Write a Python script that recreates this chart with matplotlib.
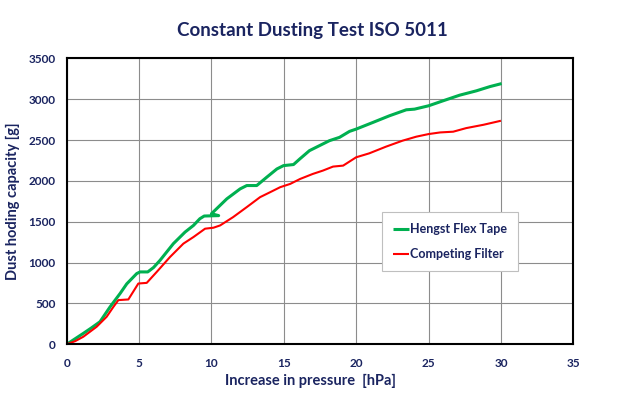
import matplotlib
matplotlib.use("Agg")
import matplotlib.pyplot as plt

plt.rcParams['font.family'] = ['Lato', 'DejaVu Sans']

title = "Constant Dusting Test ISO 5011"
xlabel = "Increase in pressure  [hPa]"
ylabel = "Dust hoding capacity [g]"
series_names = ["Hengst Flex Tape", "Competing Filter"]

green_x = [0, 0.6, 1.15, 1.7, 2.3, 3.0, 3.69, 4.15, 4.84, 5.07, 5.6, 6.0, 6.45, 7.37,
           8.18, 8.76, 9.2, 9.5, 10.5, 10.0, 11.06, 11.98, 12.44, 13.13, 13.82, 14.52,
           14.98, 15.67, 16.1, 16.77, 17.46, 18.15, 18.85, 19.54, 20.0, 21.15, 22.3,
           23.46, 24.03, 25.0, 26.0, 27.15, 28.3, 29.24, 30.05]
green_y = [0, 70, 134, 200, 276, 459, 622, 740, 866, 886, 886, 940, 1028, 1232,
           1374, 1455, 1537, 1570, 1575, 1598, 1780, 1902, 1943, 1943, 2045, 2146,
           2187, 2200, 2268, 2370, 2431, 2492, 2533, 2606, 2634, 2715, 2797,
           2870, 2878, 2919, 2980, 3049, 3102, 3154, 3191]

red_x = [0, 0.6, 1.15, 2.07, 2.76, 3.23, 3.57, 4.26, 4.95, 5.53, 6.22, 7.14, 8.06,
         8.76, 9.56, 10.14, 10.6, 11.5, 12.44, 13.36, 14.06, 14.75, 15.44, 16.13,
         17.0, 17.7, 18.4, 19.1, 20.0, 20.9, 22.06, 23.2, 24.15, 25.0, 25.8, 26.7,
         27.6, 28.8, 30.0]
red_y = [0, 40, 93, 215, 337, 459, 541, 549, 744, 752, 886, 1069, 1232,
         1313, 1415, 1427, 1455, 1557, 1679, 1801, 1862, 1923, 1963, 2024,
         2085, 2126, 2175, 2187, 2289, 2337, 2419, 2492, 2541, 2573, 2593, 2602,
         2646, 2687, 2736]

xticks = [0, 5, 10, 15, 20, 25, 30, 35]
yticks = [0, 500, 1000, 1500, 2000, 2500, 3000, 3500]

navy = "#1a2460"
fig = plt.figure(figsize=(6.4, 3.97), dpi=100)
ax = fig.add_axes([0.1042, 0.1327, 0.7916, 0.7204])

ax.plot(green_x, green_y, color="#00b050", lw=2.2, label=series_names[0], solid_capstyle='butt')
ax.plot(red_x, red_y, color="#ff0000", lw=1.5, label=series_names[1], solid_capstyle='butt')

ax.set_xlim(0, 35)
ax.set_ylim(0, 3500)
ax.set_xticks(xticks)
ax.set_yticks(yticks)
ax.grid(True, color="#8c8c8c", lw=0.8)
ax.set_axisbelow(True)
for s in ax.spines.values():
    s.set_linewidth(1.5)
    s.set_color("black")
ax.tick_params(length=0, labelsize=8.5, labelcolor=navy)
ax.tick_params(axis='x', pad=9.5)
ax.tick_params(axis='y', pad=8)
for lbl in ax.get_xticklabels() + ax.get_yticklabels():
    lbl.set_fontweight('bold')

ax.set_xlabel(xlabel, fontsize=10.5, fontweight='bold', color=navy, labelpad=3)
ax.xaxis.set_label_coords(0.482, -0.105)
ax.set_ylabel(ylabel, fontsize=10.5, fontweight='bold', color=navy)
ax.yaxis.set_label_coords(-0.093, 0.5)
fig.text(0.488, 0.922, title, ha='center', va='center', fontsize=13.5,
         fontweight='bold', color=navy)

leg = ax.legend(loc='upper left', bbox_to_anchor=(0.622, 0.462), fontsize=9,
                handlelength=1.3, handletextpad=0.05, labelspacing=1.0,
                borderpad=0.9, borderaxespad=0, frameon=True, fancybox=False,
                framealpha=1)
leg.get_frame().set_edgecolor("#bfbfbf")
leg.get_frame().set_linewidth(0.8)
for t in leg.get_texts():
    t.set_color(navy)
    t.set_fontweight('bold')

fig.savefig("out.png", dpi=100)
